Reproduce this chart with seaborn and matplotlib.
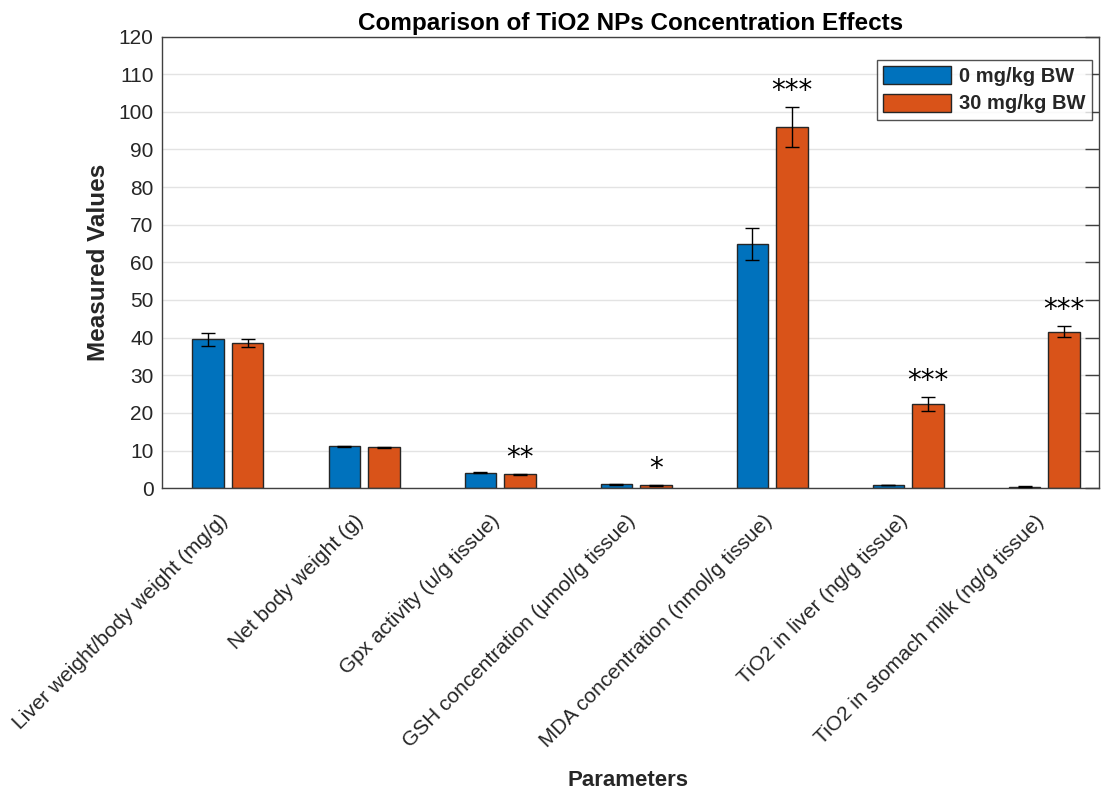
import numpy as np
import pandas as pd
import matplotlib.pyplot as plt
import matplotlib.transforms as mtransforms
import seaborn as sns

# values
PARAMS = ['Liver weight/body weight (mg/g)', 'Net body weight (g)',
          'Gpx activity (u/g tissue)', 'GSH concentration (\u03bcmol/g tissue)',
          'MDA concentration (nmol/g tissue)', 'TiO2 in liver (ng/g tissue)',
          'TiO2 in stomach milk (ng/g tissue)']
GROUPS = ['0 mg/kg BW', '30 mg/kg BW']
CTRL_MEAN = [39.6, 11.1, 4.1, 1.0, 64.8, 0.8, 0.4]
CTRL_ERR = [1.7, 0.2, 0.1, 0.1, 4.2, 0.1, 0.05]
TREAT_MEAN = [38.5, 10.8, 3.7, 0.75, 96.0, 22.4, 41.6]
TREAT_ERR = [1.0, 0.15, 0.1, 0.1, 5.3, 1.9, 1.4]
STARS = ['', '', '**', '*', '***', '***', '***']

COLOURS = {'0 mg/kg BW': '#0072BD', '30 mg/kg BW': '#D95319'}
EDGE = '#262626'

sns.set_theme(style='white')
plt.rcParams['font.family'] = ['Liberation Sans', 'DejaVu Sans']

df = pd.DataFrame({
    'param': PARAMS * 2,
    'group': [GROUPS[0]] * len(PARAMS) + [GROUPS[1]] * len(PARAMS),
    'value': CTRL_MEAN + TREAT_MEAN,
})

fig = plt.figure(figsize=(11.02, 7.95), dpi=100)
ax = fig.add_axes([0.147, 0.386, 0.85, 0.568])

sns.barplot(data=df, x='param', y='value', hue='group', order=PARAMS,
            hue_order=GROUPS, palette=COLOURS, width=0.58, gap=0.2,
            edgecolor=EDGE, linewidth=1.0, errorbar=None, saturation=1, ax=ax)

# error bars at the bar centres seaborn placed
for cont, errs in zip(ax.containers, [CTRL_ERR, TREAT_ERR]):
    xs = [p.get_x() + p.get_width() / 2 for p in cont.patches]
    hs = [p.get_height() for p in cont.patches]
    ax.errorbar(xs, hs, yerr=errs, fmt='none', ecolor='black',
                elinewidth=1.0, capsize=4.7, capthick=1.0, zorder=5)

# significance markers above the treated bars
top = np.array(TREAT_MEAN) + np.array(TREAT_ERR)
xs_t = [p.get_x() + p.get_width() / 2 for p in ax.containers[1].patches]
for x, y, s in zip(xs_t, top, STARS):
    if s:
        ax.text(x, y + 0.5, s, ha='center', va='bottom', fontsize=20,
                family=['DejaVu Sans'], color='black')

ax.set_ylim(0, 120)
ax.set_xlim(-0.485, 6.40)
ax.set_yticks(np.arange(0, 121, 10))
ax.yaxis.grid(True, color='#e3e3e3', linewidth=1)
ax.set_axisbelow(True)
for sp in ax.spines.values():
    sp.set_visible(True)
    sp.set_color('#404040')
    sp.set_linewidth(1.0)

ax.tick_params(axis='y', direction='in', length=10, width=1, color='#404040',
               labelsize=15, labelcolor='#262626', pad=6, right=True)
ax.tick_params(axis='x', direction='in', length=10, width=1, color='#909090',
               labelsize=15, labelcolor='#262626', pad=8, top=False)
ax.set_xticks(range(len(PARAMS)))
ax.set_xticklabels(PARAMS, rotation=45, ha='right', rotation_mode='anchor')
shift = mtransforms.ScaledTranslation(-10 / 100, -12 / 100, fig.dpi_scale_trans)
for lab in ax.get_xticklabels():
    lab.set_transform(lab.get_transform() + shift)

ax.set_xlabel('Parameters', fontsize=16, fontweight='bold', color='#262626',
              va='center')
ax.xaxis.set_label_coords(0.498, -0.647)
ax.set_ylabel('Measured Values', fontsize=17.5, fontweight='bold', color='#262626',
              labelpad=6)
ax.set_title('Comparison of TiO2 NPs Concentration Effects', fontsize=17.5,
             fontweight='bold', color='black', pad=5)

ax_w = 0.85 * 1102
ax_h = 0.568 * 795
leg = ax.legend(loc='upper right', bbox_to_anchor=(1 - 7 / ax_w, 1 - 23 / ax_h),
                borderaxespad=0, fontsize=14.5, frameon=True, fancybox=False,
                edgecolor='#262626', handlelength=3.4, handleheight=1.0,
                labelspacing=0.4, handletextpad=0.4, borderpad=0.3)
leg.get_frame().set_linewidth(1.0)
for t in leg.get_texts():
    t.set_fontweight('bold')

fig.savefig('out.png', dpi=100)
